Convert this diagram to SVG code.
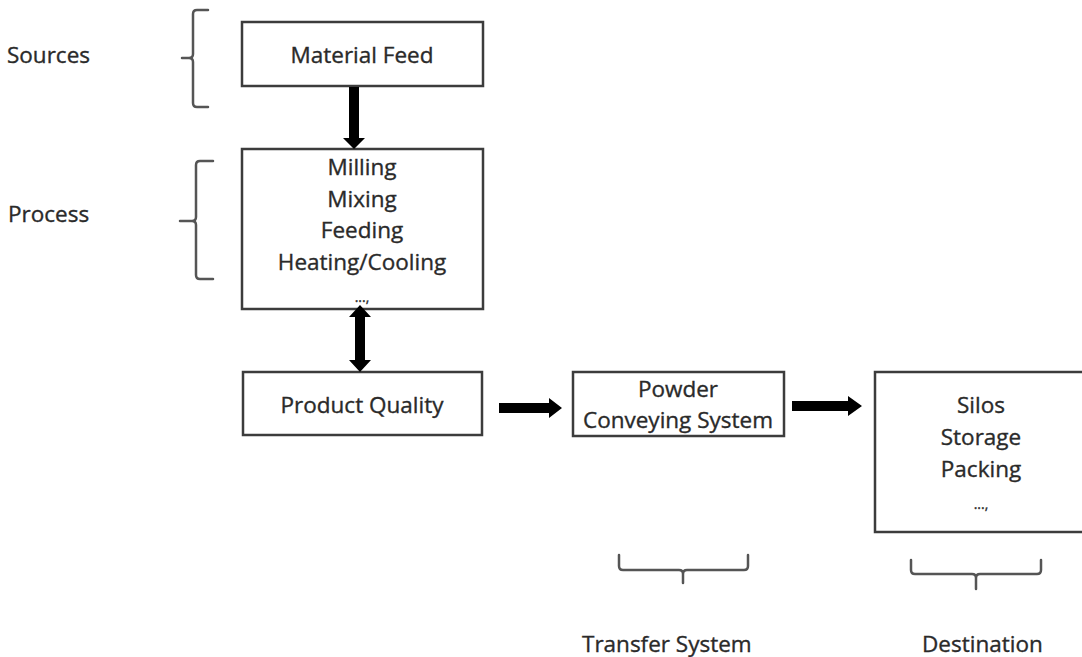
<svg xmlns="http://www.w3.org/2000/svg" width="1082" height="657" viewBox="0 0 1082 657">
<style>
.box{fill:#fff;stroke:#3c3c3c;stroke-width:2.5}
.t{font-family:"Open Sans","Liberation Sans",sans-serif;font-size:22.5px;fill:#2a2a2a;stroke:#2a2a2a;stroke-width:0.35;text-anchor:middle}
.l{font-family:"Open Sans","Liberation Sans",sans-serif;font-size:22.5px;fill:#2a2a2a;stroke:#2a2a2a;stroke-width:0.35}
.brace{fill:none;stroke:#555;stroke-width:2.5;stroke-linejoin:round;stroke-linecap:round}
.arr{fill:#000}
</style>
<rect width="1082" height="657" fill="#fff"/>
<g id="labels">
<text class="l" x="7" y="63">Sources</text>
<text class="l" x="8" y="222">Process</text>
<text class="l" x="582" y="652">Transfer System</text>
<text class="l" x="922" y="652">Destination</text>
</g>
<g id="braces">
<path class="brace" d="M208,10 H197 Q193,10 193,14 V54 Q193,58 189,58 H182 M189,58 Q193,58 193,62 V103 Q193,107 197,107 H208"/>
<path class="brace" d="M213,161 H200 Q196,161 196,165 V217 Q196,221 192,221 H180 M192,221 Q196,221 196,225 V275 Q196,279 200,279 H213"/>
<path class="brace" d="M619,555 V566 Q619,570 623,570 H679 Q683,570 683,574 V583 M683,574 Q683,570 687,570 H744 Q748,570 748,566 V555"/>
<path class="brace" d="M911,560 V570 Q911,574 915,574 H972 Q976,574 976,578 V589 M976,578 Q976,574 980,574 H1037 Q1041,574 1041,570 V560"/>
</g>
<g id="material-feed">
<rect class="box" x="242" y="22" width="241" height="64"/>
<text class="t" x="362" y="63">Material Feed</text>
</g>
<g id="process">
<rect class="box" x="242" y="149" width="241" height="160"/>
<text class="t" x="362" y="175">Milling</text>
<text class="t" x="362" y="207">Mixing</text>
<text class="t" x="362" y="238">Feeding</text>
<text class="t" x="362" y="270">Heating/Cooling</text>
<text class="t" x="362" y="302" style="font-size:14px">...,</text>
</g>
<g id="product-quality">
<rect class="box" x="243" y="372" width="239" height="63"/>
<text class="t" x="362" y="413">Product Quality</text>
</g>
<g id="powder-conveying">
<rect class="box" x="573" y="372" width="211" height="64"/>
<text class="t" x="678" y="397">Powder</text>
<text class="t" x="678" y="428">Conveying System</text>
</g>
<g id="silos">
<rect class="box" x="875" y="372" width="215" height="160"/>
<text class="t" x="981" y="413">Silos</text>
<text class="t" x="981" y="445">Storage</text>
<text class="t" x="981" y="477">Packing</text>
<text class="t" x="981" y="509" style="font-size:14px">...,</text>
</g>
<g id="connectors">
<path class="arr" d="M349,87 H359 V138 H365 L354,149 L343,138 H349 Z"/>
<path class="arr" d="M360,305 L371,317 H365 V360 H371 L360,372 L349,360 H355 V317 H349 Z"/>
<path class="arr" d="M499,403 H549 V398 L562,408 L549,418 V413 H499 Z"/>
<path class="arr" d="M792,401 H848 V396 L862,406 L848,416 V411 H792 Z"/>
</g>
</svg>
